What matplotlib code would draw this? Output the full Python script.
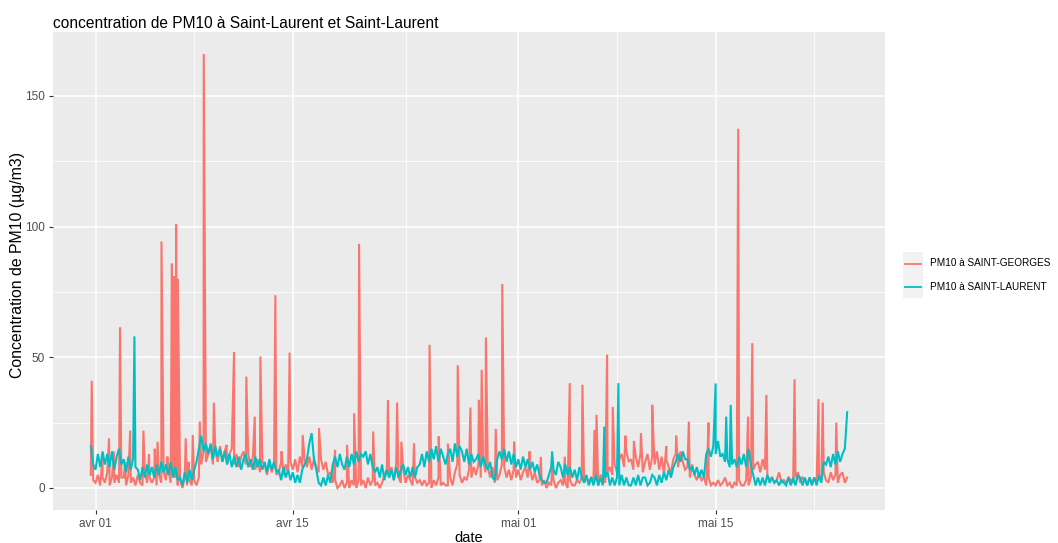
import pandas as pd
import matplotlib
matplotlib.use("Agg")
import matplotlib.pyplot as plt
from matplotlib.patches import Rectangle
from matplotlib.lines import Line2D
from matplotlib.ticker import FixedLocator

plt.rcParams["font.family"] = ["Liberation Sans", "DejaVu Sans"]

titre = "concentration de PM10 à Saint-Laurent et Saint-Laurent"
stations = ["PM10 à SAINT-GEORGES", "PM10 à SAINT-LAURENT"]
couleurs = ["#F8766D", "#00BFC4"]

# axe des dates
ticks_dates = ["2019-04-01", "2019-04-15", "2019-05-01", "2019-05-15"]
ticks_labels = ["avr 01", "avr 15", "mai 01", "mai 15"]
minor_dates = ["2019-04-08", "2019-04-23", "2019-05-08", "2019-05-22"]
ticks_y = [0, 50, 100, 150]
minor_y = [25, 75, 125]

# mesures toutes les 4 h a partir de debut (une ligne = un jour : 0h 4h 8h 12h 16h 20h)
debut = "2019-03-31 16:00"
ref = pd.Timestamp("2019-04-01")

georges_base = [
    [5, 3],
    [2, 5, 1, 4, 2, 6],          # avr 01
    [1, 4, 2, 5, 2, 4],
    [4, 1, 5, 2, 4, 1],
    [5, 2, 1, 6, 2, 4],
    [2, 4, 1, 5, 2, 6],
    [3, 7, 2, 6, 4, 1],
    [3, 0, 4, 1, 3, 1],
    [3, 1, 4, 9, 14, 10],
    [13, 16, 9, 14, 10, 16],
    [10, 14, 9, 13, 15, 9],
    [13, 8, 12, 14, 9, 13],
    [8, 12, 7, 11, 6, 10],
    [9, 5, 10, 6, 9, 5],
    [6, 10, 5, 9, 6, 10],
    [7, 11, 6, 12, 8, 11],       # avr 15
    [8, 12, 7, 11, 8, 6],
    [11, 7, 10, 5, 6, 2],
    [3, 0, 1, 3, 0, 2],
    [0, 3, 1, 0, 3, 1],
    [3, 0, 4, 1, 3, 1],
    [2, 0, 2, 5, 7, 4],
    [8, 3, 9, 4, 2, 7],
    [2, 5, 3, 1, 4, 2],
    [3, 1, 3, 1, 2, 0],
    [3, 1, 4, 1, 2, 1],
    [1, 4, 1, 6, 9, 5],
    [2, 4, 3, 7, 4, 8],
    [5, 9, 4, 11, 6, 8],
    [4, 8, 2, 3, 5, 9],
    [8, 4, 7, 3, 7, 4],
    [7, 3, 6, 8, 4, 7],          # mai 01
    [3, 6, 2, 3, 1, 3],
    [0, 2, 1, 3, 0, 2],
    [3, 1, 2, 0, 3, 1],
    [1, 3, 2, 4, 2, 4],
    [2, 4, 3, 5, 1, 5],
    [4, 2, 6, 8, 5, 9],
    [6, 11, 13, 8, 14, 10],
    [11, 7, 12, 8, 13, 6],
    [10, 13, 7, 12, 9, 14],
    [7, 12, 5, 11, 8, 6],
    [11, 13, 8, 14, 10, 7],
    [8, 4, 9, 5, 3, 6],
    [3, 4, 1, 4, 1, 2],
    [1, 3, 1, 2, 4, 1],          # mai 15
    [2, 0, 2, 1, 3, 1],
    [1, 3, 1, 4, 7, 9],
    [10, 6, 11, 7, 5, 3],
    [4, 2, 3, 6, 2, 3],
    [2, 4, 3, 2, 4, 6],
    [2, 4, 3, 1, 4, 2],
    [4, 2, 3, 4, 6, 3],
    [2, 6, 3, 5, 2, 5],
    [6, 2, 4],
]

laurent_base = [
    [16, 9],
    [7, 13, 8, 14, 9, 13],       # avr 01
    [8, 14, 7, 12, 15, 9],
    [11, 6, 12, 7, 11, 8],
    [7, 3, 8, 4, 9, 5],
    [8, 4, 9, 5, 10, 6],
    [9, 5, 10, 4, 8, 3],
    [4, 1, 6, 2, 7, 3],
    [7, 10, 15, 20, 14, 17],
    [13, 17, 11, 16, 12, 15],
    [10, 14, 9, 13, 8, 12],
    [8, 12, 7, 11, 13, 8],
    [11, 7, 12, 8, 11, 7],
    [10, 6, 11, 7, 10, 6],
    [7, 3, 8, 4, 7, 3],
    [6, 2, 5, 2, 7, 9],          # avr 15
    [11, 17, 21, 11, 7, 2],
    [1, 4, 1, 5, 2, 9],
    [12, 8, 13, 9, 7, 12],
    [8, 13, 9, 14, 10, 13],
    [12, 14, 9, 13, 8, 6],
    [8, 4, 9, 3, 7, 4],
    [7, 3, 8, 4, 7, 9],
    [5, 8, 4, 8, 4, 8],
    [9, 13, 8, 14, 10, 15],
    [11, 16, 10, 15, 12, 9],
    [13, 15, 10, 17, 12, 16],
    [14, 10, 15, 9, 13, 10],
    [11, 13, 8, 12, 9, 7],
    [10, 4, 3, 11, 14, 11],
    [15, 10, 14, 9, 13, 8],
    [11, 7, 12, 8, 11, 7],       # mai 01
    [10, 6, 9, 5, 3, 2],
    [2, 5, 8, 7, 5, 10],
    [8, 4, 9, 5, 8, 4],
    [7, 3, 8, 4, 2, 5],
    [1, 4, 1, 5, 1, 4],
    [1, 4, 6, 1, 4, 1],
    [4, 1, 5, 1, 4, 1],
    [1, 4, 1, 5, 1, 4],
    [4, 1, 2, 5, 4, 1],
    [5, 2, 6, 3, 7, 4],
    [8, 10, 13, 10, 14, 11],
    [11, 7, 8, 5, 8, 4],
    [7, 4, 13, 15, 12, 16],
    [13, 18, 12, 13, 10, 11],    # mai 15
    [8, 9, 11, 8, 12, 9],
    [13, 8, 15, 9, 5, 1],
    [4, 1, 4, 1, 5, 2],
    [4, 2, 3, 1, 3, 2],
    [1, 4, 1, 4, 1, 5],
    [4, 1, 4, 1, 4, 1],
    [4, 1, 5, 2, 10, 9],
    [12, 8, 13, 9, 14, 10],
    [13, 15, 29],
]

# pics horaires (jours depuis le 1er avril, valeur)
georges_pics_j = [-0.27, 0.5, 0.96, 1.3, 1.74, 2.1, 2.46, 3.4, 3.8, 4.2, 4.4, 4.68, 5.1,
                  5.42, 5.45, 5.48, 5.51, 5.54, 5.57, 5.60, 5.63, 5.66, 5.69, 5.72, 5.75,
                  5.78, 5.81, 5.84,
                  6.4, 6.6, 6.9, 7.4, 7.68, 8.4, 9.3, 9.83, 10.7, 11.3, 11.7, 12.76, 13.2,
                  13.77, 14.7, 15.86, 17.0, 17.85, 18.35, 18.7, 19.7, 20.75, 21.4, 21.7,
                  22.6, 23.7, 24.35, 25.0, 25.7, 26.6, 27.2, 27.4, 27.7, 28.4, 28.86,
                  29.7, 30.8, 31.6, 32.4, 33.3, 33.65, 34.55, 35.4, 35.55, 36.3, 36.7,
                  37.6, 38.2, 38.7, 39.5, 40.5, 41.2, 42.1, 43.5, 45.6, 46.3, 46.6, 47.6,
                  49.6, 51.3, 51.6, 52.56]
georges_pics_v = [41, 12, 19, 14, 61.5, 10, 22, 22, 13, 15, 17.7, 94.3, 12,
                  85.8, 8, 62, 10, 80, 6, 81, 9, 72, 12, 100.8, 10,
                  79, 7, 80,
                  19, 10, 20.3, 25.4, 166, 32.6, 16.5, 52, 42.6, 27.3, 50.3, 73.7, 14,
                  51.8, 20.3, 22.9, 14.6, 16.5, 28.6, 93.4, 21.6, 33.7, 32.7, 17.7,
                  17.1, 54.8, 19.7, 17, 46.9, 30.8, 33.7, 45.2, 57.6, 22.6, 78,
                  17.7, 14, 11.9, 8.8, 12, 40.1, 39.5, 22.2, 28, 51, 31,
                  20, 18, 21, 31.8, 16, 20, 25.4, 25, 137.4, 27.3, 55.4, 35.6,
                  41.6, 34, 32.7, 25]

laurent_pics_j = [2.76, 32.4, 36.1, 37.1, 44.0, 44.75, 45.07]
laurent_pics_v = [58, 14, 23.5, 40.1, 40, 27.3, 31.8]


def serie(base, pics_j, pics_v):
    valeurs = [v for jour in base for v in jour]
    df = pd.DataFrame({"date": pd.date_range(debut, periods=len(valeurs), freq="4h"),
                       "pm10": valeurs})
    pics = pd.DataFrame({"date": ref + pd.to_timedelta(pics_j, unit="D"), "pm10": pics_v})
    return pd.concat([df, pics]).sort_values("date")


georges = serie(georges_base, georges_pics_j, georges_pics_v)
laurent = serie(laurent_base, laurent_pics_j, laurent_pics_v)

W, H = 1058, 543
fig = plt.figure(figsize=(W / 100, H / 100), dpi=100)
ax = fig.add_axes([53 / W, 1 - 509.7 / H, 832 / W, 477.4 / H])
ax.set_facecolor("#EBEBEB")
for s in ax.spines.values():
    s.set_visible(False)

for df, c in zip([georges, laurent], couleurs):
    ax.plot(df["date"], df["pm10"], color=c, lw=1.5, solid_joinstyle="miter")

# limites avec 5 % de marge
tmin = min(georges["date"].min(), laurent["date"].min())
tmax = max(georges["date"].max(), laurent["date"].max())
pad = (tmax - tmin) * 0.05
ax.set_xlim(tmin - pad, tmax + pad)
vmin = min(georges["pm10"].min(), laurent["pm10"].min())
vmax = max(georges["pm10"].max(), laurent["pm10"].max())
ax.set_ylim(vmin - 0.05 * (vmax - vmin), vmax + 0.05 * (vmax - vmin))

ax.set_xticks(pd.to_datetime(ticks_dates))
ax.set_xticklabels(ticks_labels)
ax.xaxis.set_minor_locator(FixedLocator(matplotlib.dates.date2num(pd.to_datetime(minor_dates))))
ax.set_yticks(ticks_y)
ax.yaxis.set_minor_locator(FixedLocator(minor_y))

ax.set_axisbelow(True)
ax.grid(which="major", color="white", lw=1.1)
ax.grid(which="minor", color="white", lw=0.55)
ax.tick_params(which="major", length=3.2, width=0.8, color="#333333",
               labelsize=8.5, labelcolor="#4D4D4D", pad=2.5)
ax.tick_params(which="minor", length=0)

ax.set_xlabel("date", fontsize=10.5, labelpad=1)
fig.text(18 / W, 1 - 265 / H, "Concentration de PM10 (µg/m3)", fontsize=11.4,
         rotation=90, ha="center", va="center")
fig.text(53 / W, 1 - 28 / H, titre, fontsize=11.2, ha="left", va="baseline")

# legende
for i, (lab, c) in enumerate(zip(stations, couleurs)):
    y0 = 252 + i * 23
    fig.add_artist(Rectangle((903 / W, 1 - (y0 + 23) / H), 20 / W, 23 / H,
                             transform=fig.transFigure, facecolor="#F2F2F2", edgecolor="none"))
    fig.add_artist(Line2D([905 / W, 921 / W], [1 - (y0 + 11.5) / H] * 2,
                          transform=fig.transFigure, color=c, lw=1.3))
    fig.text(930 / W, 1 - (y0 + 11.5) / H, lab, fontsize=7.2, va="center")

fig.savefig("out.png", dpi=100)
